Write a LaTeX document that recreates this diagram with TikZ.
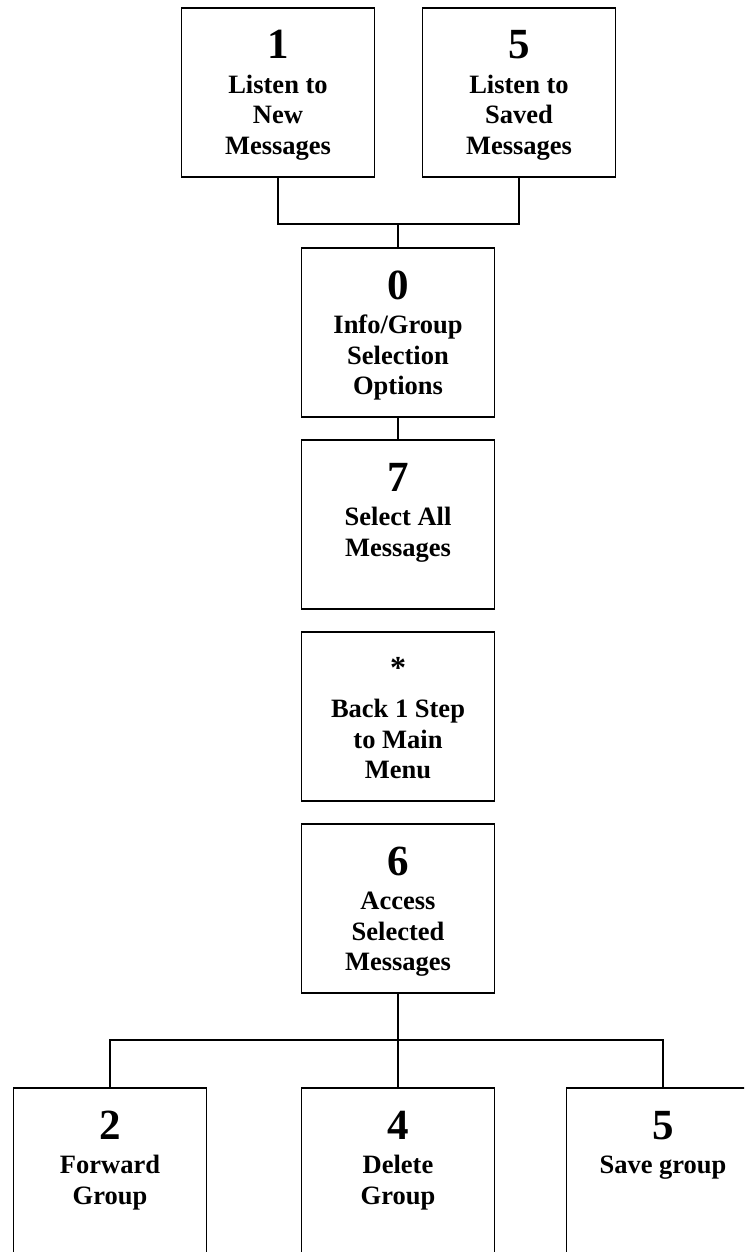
\documentclass[tikz,border=0pt]{standalone}
\usepackage{fontspec}
\setmainfont{Liberation Serif}
\newcommand\menubox[6]{%
  \node[menubox,minimum height=#6pt] (#1) at (#2,{#3+#6/2}) {};
  \node[digitfont,anchor=base] (#1d) at (#2,{#3+51}) {#4};
  \node[labelfont,anchor=north] (#1l) at (#2,{#3+85-21.56}) {\strut #5};
}
\begin{document}
\begin{tikzpicture}[x=1pt,y=-1pt,
  menubox/.style={draw,line width=1.9pt,minimum width=193pt,inner sep=0pt},
  digitfont/.style={font=\fontsize{43}{43}\selectfont\bfseries,inner sep=0pt},
  labelfont/.style={font=\fontsize{26.5}{30.8}\selectfont\bfseries,align=center,inner sep=0pt},
  wire/.style={line width=1.9pt}]
\useasboundingbox (0,0) rectangle (744,1252);
\clip (0,0) rectangle (744,1252);
\menubox{b1}{278}{8}{1}{Listen to\\New\\Messages}{169}
\menubox{b5}{519}{8}{5}{Listen to\\Saved\\Messages}{169}
\menubox{b0}{398}{248}{0}{Info/Group\\Selection\\Options}{169}
\menubox{b7}{398}{440}{7}{Select All\\Messages}{169}
\menubox{bs}{398}{632}{\fontsize{32}{32}\selectfont\raisebox{5pt}{*}}{Back 1 Step\\to Main\\Menu}{169}
\menubox{b6}{398}{824}{6}{Access\\Selected\\Messages}{169}
\menubox{c2}{110}{1088}{2}{Forward\\Group}{200}
\menubox{c4}{398}{1088}{4}{Delete\\Group}{200}
\menubox{c5}{663}{1088}{5}{Save group}{200}
\coordinate (j1) at (398,224);
\coordinate (j2) at (398,1040);
\draw[wire] (b1.south) |- (j1) -| (b5.south);
\draw[wire] (j1) -- (b0.north);
\draw[wire] (b0.south) -- (b7.north);
\draw[wire] (b6.south) -- (j2);
\draw[wire] (c2.north) |- (j2) -| (c5.north);
\draw[wire] (j2) -- (c4.north);
\end{tikzpicture}
\end{document}
